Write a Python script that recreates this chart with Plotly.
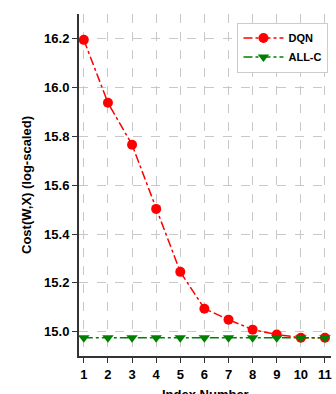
import plotly.graph_objects as go

index_numbers = [1, 2, 3, 4, 5, 6, 7, 8, 9, 10, 11]
dqn_cost = [16.196, 15.938, 15.766, 15.503, 15.245, 15.094, 15.049, 15.008, 14.988, 14.975, 14.975]
allc_cost = [14.975] * 11
y_ticks = [15.0, 15.2, 15.4, 15.6, 15.8, 16.0, 16.2]

fig = go.Figure()
fig.add_trace(go.Scatter(
    x=index_numbers, y=dqn_cost, name="DQN", mode="lines+markers",
    line=dict(color="red", width=1.5, dash="dashdot"),
    marker=dict(symbol="circle", size=10, color="red"),
))
fig.add_trace(go.Scatter(
    x=index_numbers, y=allc_cost, name="ALL-C", mode="lines+markers",
    line=dict(color="green", width=1.5, dash="dashdot"),
    marker=dict(symbol="triangle-down", size=10, color="green"),
))

font = dict(family="Liberation Sans, Arial, sans-serif", size=13, color="black")
fig.update_layout(
    width=336, height=394,
    margin=dict(l=79, r=5, t=14, b=38),
    paper_bgcolor="white", plot_bgcolor="white",
    font=font,
    legend=dict(
        x=0.99, y=0.975, xanchor="right", yanchor="top",
        bgcolor="white", bordercolor="#cccccc", borderwidth=1,
        font=dict(family="Liberation Sans, Arial, sans-serif", size=11, color="black", weight="bold"),
        itemwidth=40, tracegroupgap=4,
    ),
    annotations=[dict(
        text="Index Number", xref="paper", yref="paper", x=0.5, y=0,
        xanchor="center", yanchor="top", yshift=-29, showarrow=False,
        font=dict(weight="bold", size=13, color="black"),
    )],
)
fig.update_xaxes(
    range=[0.8, 11.25],
    tickvals=index_numbers,
    ticks="outside", ticklen=5, tickcolor="#333333",
    showline=True, linecolor="#333333", linewidth=2,
    showgrid=True, gridcolor="#c8c8c8", griddash="dash", gridwidth=1,
    zeroline=False, automargin=False,
    tickfont=dict(weight="bold", size=13),
)
fig.update_yaxes(
    range=[14.90, 16.302],
    tickvals=y_ticks, ticktext=[f"{v:.1f}" for v in y_ticks],
    ticks="outside", ticklen=5, tickcolor="#333333",
    showline=True, linecolor="#333333", linewidth=2,
    showgrid=True, gridcolor="#c8c8c8", griddash="dash", gridwidth=1,
    zeroline=False, automargin=False,
    tickfont=dict(weight="bold", size=13),
    title=dict(text="Cost(W,X) (log-scaled)", font=dict(weight="bold", size=13), standoff=10),
)

fig.write_html(
    "out.html",
    config={"displayModeBar": False},
    post_script="document.body.style.margin='0';document.body.style.overflow='hidden';",
)
